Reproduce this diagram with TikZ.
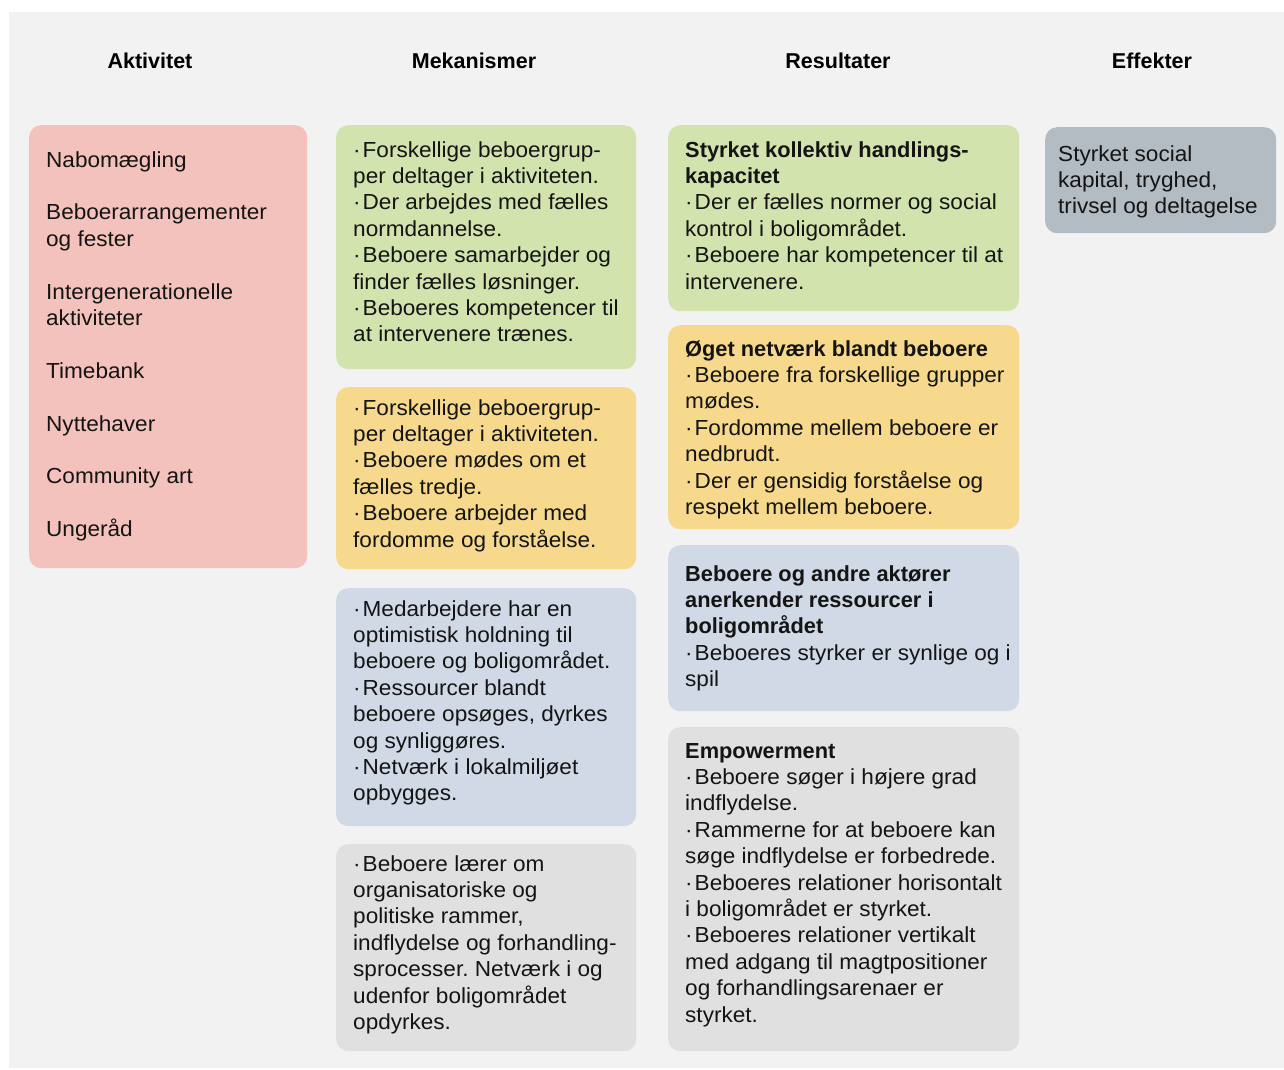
\documentclass[tikz,border=0pt]{standalone}
\usepackage{fontspec}
\setmainfont{Liberation Sans}[FakeStretch=1.035,BoldFeatures={FakeStretch=1.0}]
\frenchspacing
\definecolor{bgc}{HTML}{F2F2F2}
\definecolor{pinkc}{HTML}{F4C2BC}
\definecolor{greenc}{HTML}{D3E3AD}
\definecolor{yellowc}{HTML}{F6D98C}
\definecolor{bluec}{HTML}{D0D9E5}
\definecolor{grayc}{HTML}{E0E0E0}
\definecolor{effc}{HTML}{B3BBC3}
\newcommand\mydot{·\kern2pt}
\begin{document}
\begin{tikzpicture}[x=1pt,y=-1pt,
  box/.style={draw=none,rounded corners=12pt,anchor=north west,inner sep=0pt},
  txt/.style={anchor=base west,inner sep=0pt,font=\fontsize{21.8}{26.4}\selectfont,text=black!92},
  head/.style={anchor=base,inner sep=0pt,font=\bfseries\fontsize{21.5}{26}\selectfont}]
\useasboundingbox (0,0) rectangle (1284,1069);
\fill[bgc] (9,12) rectangle (1284,1068);
% headers
\node[head] (h1) at (150,68) {Aktivitet};
\node[head] (h2) at (474,68) {Mekanismer};
\node[head] (h3) at (838,68) {Resultater};
\node[head] (h4) at (1152,68) {Effekter};
% boxes
\node[box,fill=pinkc,minimum width=278pt,minimum height=443pt] (b1) at (29,125) {};
\node[box,fill=greenc,minimum width=300pt,minimum height=244pt] (m1) at (336,125) {};
\node[box,fill=yellowc,minimum width=300pt,minimum height=182pt] (m2) at (336,387) {};
\node[box,fill=bluec,minimum width=300pt,minimum height=238pt] (m3) at (336,588) {};
\node[box,fill=grayc,minimum width=300pt,minimum height=207pt] (m4) at (336,844) {};
\node[box,fill=greenc,minimum width=351pt,minimum height=186pt] (r1) at (668,125) {};
\node[box,fill=yellowc,minimum width=351pt,minimum height=204pt] (r2) at (668,325) {};
\node[box,fill=bluec,minimum width=351pt,minimum height=166pt] (r3) at (668,545) {};
\node[box,fill=grayc,minimum width=351pt,minimum height=324pt] (r4) at (668,727) {};
\node[box,fill=effc,minimum width=231pt,minimum height=106pt] (e1) at (1045,127) {};
% texts
\node[txt] (t1) at (46,167) {\begin{tabular}[t]{@{}l@{}}Nabomægling\\ \\ Beboerarrangementer\\ og fester\\ \\ Intergenerationelle\\ aktiviteter\\ \\ Timebank\\ \\ Nyttehaver\\ \\ Community art\\ \\ Ungeråd\end{tabular}};
\node[txt] (tm1) at (353,157) {\begin{tabular}[t]{@{}l@{}}\mydot Forskellige beboergrup-\\ per deltager i aktiviteten.\\ \mydot Der arbejdes med fælles\\ normdannelse.\\ \mydot Beboere samarbejder og\\ finder fælles løsninger.\\ \mydot Beboeres kompetencer til\\ at intervenere trænes.\end{tabular}};
\node[txt] (tm2) at (353,415) {\begin{tabular}[t]{@{}l@{}}\mydot Forskellige beboergrup-\\ per deltager i aktiviteten.\\ \mydot Beboere mødes om et\\ fælles tredje.\\ \mydot Beboere arbejder med\\ fordomme og forståelse.\end{tabular}};
\node[txt] (tm3) at (353,616) {\begin{tabular}[t]{@{}l@{}}\mydot Medarbejdere har en\\ optimistisk holdning til\\ beboere og boligområdet.\\ \mydot Ressourcer blandt\\ beboere opsøges, dyrkes\\ og synliggøres.\\ \mydot Netværk i lokalmiljøet\\ opbygges.\end{tabular}};
\node[txt] (tm4) at (353,871) {\begin{tabular}[t]{@{}l@{}}\mydot Beboere lærer om\\ organisatoriske og\\ politiske rammer,\\ indflydelse og forhandling-\\ sprocesser. Netværk i og\\ udenfor boligområdet\\ opdyrkes.\end{tabular}};
\node[txt] (tr1) at (685,157) {\begin{tabular}[t]{@{}l@{}}\textbf{Styrket kollektiv handlings-}\\ \textbf{kapacitet}\\ \mydot Der er fælles normer og social\\ kontrol i boligområdet.\\ \mydot Beboere har kompetencer til at\\ intervenere.\end{tabular}};
\node[txt] (tr2) at (685,356) {\begin{tabular}[t]{@{}l@{}}\textbf{Øget netværk blandt beboere}\\ \mydot Beboere fra forskellige grupper\\ mødes.\\ \mydot Fordomme mellem beboere er\\ nedbrudt.\\ \mydot Der er gensidig forståelse og\\ respekt mellem beboere.\end{tabular}};
\node[txt] (tr3) at (685,581) {\begin{tabular}[t]{@{}l@{}}\textbf{Beboere og andre aktører}\\ \textbf{anerkender ressourcer i}\\ \textbf{boligområdet}\\ \mydot Beboeres styrker er synlige og i\\ spil\end{tabular}};
\node[txt] (tr4) at (685,758) {\begin{tabular}[t]{@{}l@{}}\textbf{Empowerment}\\ \mydot Beboere søger i højere grad\\ indflydelse.\\ \mydot Rammerne for at beboere kan\\ søge indflydelse er forbedrede.\\ \mydot Beboeres relationer horisontalt\\ i boligområdet er styrket.\\ \mydot Beboeres relationer vertikalt\\ med adgang til magtpositioner\\ og forhandlingsarenaer er\\ styrket.\end{tabular}};
\node[txt] (te1) at (1058,161) {\begin{tabular}[t]{@{}l@{}}Styrket social\\ kapital, tryghed,\\ trivsel og deltagelse\end{tabular}};
\end{tikzpicture}
\end{document}
